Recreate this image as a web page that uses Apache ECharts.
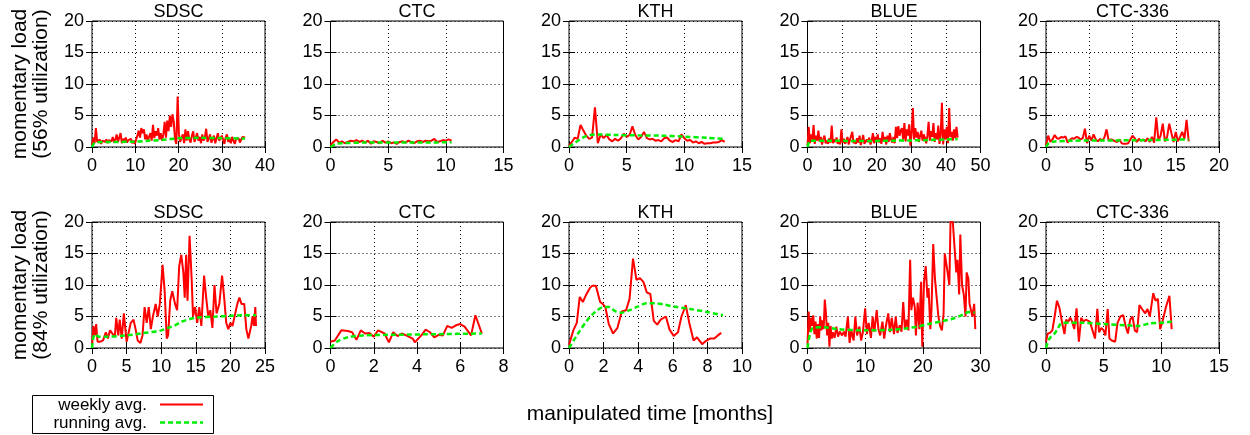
<!DOCTYPE html>
<html>
<head>
<meta charset="utf-8">
<script src="https://cdn.jsdelivr.net/npm/echarts@6/dist/echarts.min.js"></script>
<style>
  html, body { margin: 0; padding: 0; background: #fff; }
  #chart { width: 1250px; height: 435px; }
</style>
</head>
<body>
<div id="chart"></div>
<script>
// ---- panel names and axis ranges ----
const panelNames = ['SDSC', 'CTC', 'KTH', 'BLUE', 'CTC-336'];
const topXMax = [40, 15, 15, 50, 20];
const topXTick = [10, 5, 5, 10, 5];
const bottomXMax = [25, 8, 10, 30, 15];
const bottomXTick = [5, 2, 2, 10, 5];
const yMax = 20;
const yTick = 5;
const rowUtil = ['56% utilization', '84% utilization'];

// ---- 56% utilization: weekly averages, one value per week, week length in months ----
const sdsc56Week = 0.3;
const sdsc56Weekly = [
  0.3, 1.5, 0.6, 3.0, 0.8,
  0.7, 1.2, 0.5, 1.0, 1.3, 0.8, 1.2, 0.6, 1.1, 1.4,
  0.9, 1.6, 0.7, 1.2, 2.0, 0.8, 1.1, 2.2, 0.6, 1.3,
  0.9, 1.5, 0.7, 1.1, 0.8, 1.3, 0.6, 1.0, 0.5, 1.2,
  1.8, 2.6, 1.5, 3.0, 2.2, 2.8, 1.2, 2.0, 1.0, 1.6,
  2.2, 1.0, 3.5, 1.4, 2.5, 1.8, 3.0, 1.2, 2.2, 1.0,
  2.0, 4.0, 1.5, 4.2, 2.5, 5.0, 3.2, 5.2, 4.0, 1.2,
  0.5, 8.0, 2.0, 0.8, 1.5, 2.0, 0.6, 2.8, 1.0, 2.5,
  1.2, 0.7, 1.8, 2.5, 0.8, 1.5, 2.2, 1.0, 1.6, 0.6,
  2.0, 1.0, 1.5, 2.9, 0.8, 1.3, 2.0, 0.7, 1.2, 1.8,
  0.6, 1.4, 2.2, 1.0, 0.7, 1.8, 1.2, 0.5, 1.5, 2.0,
  0.8, 1.3, 0.6, 1.6, 1.0, 0.5, 1.2, 0.9, 1.4, 0.7,
  1.2, 1.6, 1.3, 1.5
];
const ctc56Week = 0.25;
const ctc56Weekly = [
  0.3, 0.8, 1.2, 0.7, 0.9, 0.6, 0.8, 1.0, 0.9, 1.1,
  0.8, 1.0, 0.7, 1.0, 0.5, 0.9, 0.8, 0.6, 1.0, 0.7,
  0.9, 0.6, 0.7, 0.5, 0.8, 0.9, 0.7, 1.0, 0.8, 0.6,
  0.9, 1.0, 0.8, 1.0, 0.9, 1.0, 1.3, 0.8, 0.9, 1.1,
  1.0, 1.2, 1.0
];
const kth56Week = 0.25;
const kth56Weekly = [
  0.2, 0.8, 1.5, 1.3, 3.5, 2.6, 1.8, 1.3, 1.5, 6.3,
  0.6, 2.0, 1.4, 1.9, 1.2, 0.9, 1.3, 1.0, 1.4, 2.1,
  1.6, 1.9, 3.3, 1.9, 1.2, 1.6, 2.4, 1.4, 1.2, 1.3,
  1.0, 1.1, 0.9, 1.4, 1.5, 1.0, 0.8, 1.1, 0.9, 2.0,
  1.4, 1.0, 1.1, 0.7, 0.9, 0.6, 0.8, 0.5, 0.6, 0.6,
  0.7, 0.7, 0.8, 1.1, 0.8
];
const blue56Week = 0.35;
const blue56Weekly = [
  0.3, 3.2, 0.6, 2.0, 0.9, 3.5, 0.5, 1.8, 1.0, 2.6,
  0.8, 1.6, 0.4, 1.2, 1.8, 0.6, 1.0, 0.5, 1.4, 0.7,
  3.4, 0.6, 1.2, 0.8, 1.5, 0.5, 1.0, 0.4, 2.8, 0.7,
  1.3, 0.5, 0.9, 1.6, 0.4, 1.1, 0.8, 2.4, 0.6, 1.0,
  0.5, 1.4, 0.7, 1.8, 0.3, 1.0, 1.9, 0.5, 0.2, 1.2,
  0.8, 1.5, 0.4, 1.0, 2.2, 0.6, 1.6, 0.8, 2.0, 0.7,
  1.4, 0.5, 2.4, 0.9, 1.6, 0.4, 1.8, 0.8, 2.2, 1.2,
  0.7, 1.6, 0.6, 3.2, 1.4, 3.3, 1.8, 2.6, 3.0, 1.2,
  3.8, 0.9, 2.8, 1.8, 3.6, 0.2, 2.2, 6.2, 1.2, 3.0,
  1.5, 2.4, 0.8, 1.8, 2.6, 1.0, 2.0, 1.4, 0.6, 1.8,
  4.0, 1.0, 2.5, 1.6, 3.8, 0.8, 2.2, 1.2, 3.4, 0.5,
  2.0, 7.0, 0.4, 2.8, 1.2, 3.2, 0.6, 6.2, 1.6, 2.4,
  1.0, 2.8, 1.4, 3.2, 1.5
];
const ctc336_56Week = 0.25;
const ctc336_56Weekly = [
  0.2, 1.8, 0.8, 1.2, 1.9, 1.4, 1.3, 1.6, 1.5, 1.7,
  0.7, 1.1, 1.4, 1.3, 1.6, 1.5, 1.2, 1.4, 2.9, 0.6,
  1.8, 1.0, 2.0, 1.2, 0.9, 1.3, 1.0, 1.5, 2.8, 1.0,
  1.2, 1.1, 0.9, 0.8, 1.2, 0.6, 0.5, 0.5, 0.6, 1.2,
  1.8, 1.4, 0.8, 1.3, 1.0, 1.2, 0.9, 1.4, 0.8, 1.6,
  0.7, 4.7, 1.0, 1.8, 3.7, 0.9, 1.6, 3.7, 2.2, 0.8,
  2.4, 0.9, 1.6, 2.4, 1.3, 4.3, 0.9
];

// ---- 56% utilization: running averages [month, load] ----
const sdsc56Running = [[0,0],[0.5,0.6],[1,0.75],[5,0.8],[10,0.85],[13,1.0],[16,1.1],[18,1.25],[20,1.4],[25,1.45],[30,1.4],[35.4,1.35]];
const ctc56Running = [[0,0],[0.5,0.5],[1,0.6],[3,0.7],[6,0.7],[10.5,0.75]];
const kth56Running = [[0,0],[0.3,0.4],[0.7,0.9],[1.2,1.5],[1.8,1.9],[2.5,2.0],[4,1.9],[6,1.85],[8,1.8],[10,1.65],[12,1.45],[13.5,1.3]];
const blue56Running = [[0,0],[0.3,0.6],[0.7,1.0],[5,1.0],[15,0.95],[25,1.0],[30,1.05],[35,1.1],[40,1.2],[43.4,1.25]];
const ctc336_56Running = [[0,0],[0.3,0.6],[0.8,0.85],[3,1.0],[8,1.05],[12,1.1],[16.5,1.2]];

// ---- 84% utilization: weekly averages [month, load] ----
const sdsc84Weekly = [[0,0.2],[0.2,3.5],[0.4,2],[0.6,3.8],[0.8,1],[1.2,1],[1.6,1.2],[2,2.5],[2.3,1.5],[2.6,2.8],[3,2.2],[3.3,1.8],[3.5,4.8],[3.8,2],[4,4.5],[4.3,1.5],[4.6,5.5],[5,1],[5.3,2.5],[5.6,4],[6,4.5],[6.3,3],[6.6,1.2],[7,0.8],[7.3,2],[7.6,6.5],[7.9,4],[8.2,6.5],[8.5,3],[8.8,5],[9.2,7],[9.5,5],[9.8,7],[10.2,13.2],[10.5,9],[10.8,1.5],[11,2],[11.3,7.5],[11.6,9],[12,7],[12.3,6],[12.6,13],[12.9,14.8],[13.2,12],[13.4,8],[13.6,14.8],[13.8,7.5],[14.1,17.8],[14.4,11],[14.6,5],[14.9,6.5],[15.2,4],[15.5,6.5],[15.8,3.5],[16.2,11.5],[16.5,8],[16.8,5],[17.1,6],[17.4,3.2],[17.7,10],[18,5.5],[18.4,7],[18.8,11.5],[19.1,8],[19.4,4],[19.7,3],[20,4],[20.3,3.5],[20.6,5],[21,7],[21.3,8],[21.6,7],[22,7],[22.3,3],[22.6,1.5],[23,3.5],[23.2,5],[23.4,3.5],[23.6,6.5],[23.7,3.5]];
const ctc84Weekly = [[0,1],[0.2,1.2],[0.5,2.8],[0.8,2.7],[1.0,2.5],[1.2,1.3],[1.4,2.8],[1.6,2.3],[1.8,2.4],[2.0,1.8],[2.2,2.8],[2.5,2.3],[2.7,0.9],[2.9,2.5],[3.1,1.9],[3.3,2.3],[3.5,2.0],[3.8,1.5],[3.9,0.9],[4.2,2.0],[4.4,2.9],[4.6,2.5],[4.8,1.7],[5.0,2.1],[5.2,2.0],[5.4,3.5],[5.6,3.2],[5.8,3.6],[6.0,3.8],[6.2,3.4],[6.5,2.0],[6.7,5.2],[7.0,2.3]];
const kth84Weekly = [[0,0.5],[0.25,2.8],[0.45,4],[0.62,8.1],[0.8,7.3],[1.0,8.5],[1.2,9.5],[1.35,9.9],[1.55,9.9],[1.8,7.3],[1.95,7.0],[2.1,6.5],[2.3,3.8],[2.55,2.3],[2.8,3.2],[3.05,5.8],[3.3,6.0],[3.5,7.8],[3.7,14.2],[3.9,10.8],[4.1,11.1],[4.3,10.5],[4.5,8.8],[4.7,8.6],[4.9,4.3],[5.1,3.7],[5.3,4.5],[5.6,5.0],[5.8,3.0],[6.05,1.9],[6.3,2.5],[6.5,5.0],[6.75,6.8],[6.95,4.0],[7.2,1.2],[7.4,1.7],[7.7,0.6],[7.9,1.1],[8.15,1.5],[8.4,1.5],[8.6,2.0],[8.8,2.4]];
const blue84Weekly = [[0,0.5],[0.2,5.8],[0.4,2.5],[0.6,4.8],[0.8,3.5],[1.0,5.2],[1.2,2.2],[1.4,4.2],[1.6,1.5],[1.8,3.8],[2.0,1.6],[2.2,5.0],[2.4,2.8],[2.6,4.4],[2.8,3.0],[3.0,7.7],[3.2,5.5],[3.4,2.0],[3.6,4.0],[3.8,0.2],[4.0,3.5],[4.2,1.5],[4.4,2.5],[4.7,1.6],[5.0,3.4],[5.3,1.8],[5.6,2.6],[6.0,2.0],[6.3,2.6],[6.6,1.8],[7.0,5.0],[7.3,0.8],[7.6,2.8],[8.0,1.2],[8.3,5.0],[8.6,2.0],[9.0,3.4],[9.3,1.2],[9.6,2.5],[10.0,6.3],[10.3,2.2],[10.6,4.0],[11.0,1.6],[11.3,5.0],[11.6,2.6],[12.0,6.0],[12.3,3.0],[12.6,2.0],[13.0,4.2],[13.3,1.5],[13.6,3.5],[14.0,5.5],[14.3,2.5],[14.6,4.8],[15.0,2.2],[15.3,5.0],[15.6,2.4],[16.0,3.6],[16.3,2.6],[16.6,7.3],[16.9,3.0],[17.2,4.5],[17.5,2.8],[17.8,14.0],[18.0,6.0],[18.3,8.0],[18.6,6.5],[18.8,2.0],[19.1,7.2],[19.4,3.0],[19.7,10.5],[19.9,0.2],[20.2,10.5],[20.5,13.0],[20.8,8.0],[21.0,9.5],[21.3,3.0],[21.5,6.0],[21.8,16.5],[22.1,11.0],[22.4,8.0],[22.7,5.0],[23.0,3.5],[23.3,2.8],[23.6,5.5],[23.8,15.0],[24.1,15.2],[24.3,12.0],[24.6,10.0],[24.8,20],[25.2,20],[25.5,16.0],[25.8,12.0],[26.0,14.0],[26.3,8.5],[26.5,18.0],[26.8,10.0],[27.1,8.5],[27.4,5.0],[27.6,12.0],[27.9,11.0],[28.1,7.0],[28.4,7.2],[28.6,5.0],[28.9,7.0],[29.1,3.0]];
const ctc336_84Weekly = [[0,1],[0.15,2.3],[0.35,2.4],[0.55,2.8],[0.75,5],[0.95,7.5],[1.15,6.5],[1.4,4],[1.6,2.2],[1.75,4.5],[1.95,4.2],[2.1,4.8],[2.25,4.3],[2.45,3],[2.65,6.3],[2.85,1],[3.05,4.8],[3.25,4.2],[3.45,4.5],[3.6,4.3],[3.8,4.2],[4.0,3],[4.25,1.5],[4.45,6.2],[4.6,2.5],[4.8,3.2],[5.0,2.8],[5.15,2],[5.35,6.2],[5.5,1.5],[5.7,1.2],[6.0,1],[6.2,4],[6.45,5],[6.7,5.2],[6.9,3.5],[7.1,2.3],[7.3,4.5],[7.5,5],[7.7,2.8],[7.9,2.5],[8.1,6.8],[8.4,6],[8.6,5.5],[8.8,6.2],[9.0,5],[9.3,8.7],[9.5,7.5],[9.7,7.8],[9.9,3],[10.1,4.2],[10.4,6.5],[10.7,8.3],[10.9,3]];

// ---- 84% utilization: running averages [month, load] ----
const sdsc84Running = [[0,0],[0.4,2.2],[1,1.8],[2,1.8],[5,2.0],[7,2.3],[10,2.8],[11,3.2],[12,3.6],[13,4.2],[15,4.8],[18,5.0],[20,5.1],[22,5.2],[23.7,5.2]];
const ctc84Running = [[0,0],[0.3,1.0],[0.8,1.7],[1.5,2.0],[3,2.1],[5,2.2],[7,2.3]];
const kth84Running = [[0,0],[0.5,2.2],[1,4.2],[1.5,5.7],[2,6.5],[2.3,6.5],[2.7,5.8],[3.0,5.6],[3.5,6.0],[4,6.6],[4.5,7.1],[5,7.1],[5.5,6.9],[6,6.6],[7,6.2],[8,5.7],[8.9,5.2]];
const blue84Running = [[0,0],[0.5,2.5],[1,3.2],[3,3.3],[5,3.0],[10,2.8],[15,2.9],[17,3.1],[19,3.4],[21,3.8],[23,4.2],[25,4.6],[27,5.3],[28,5.7],[29,5.6]];
const ctc336_84Running = [[0,0],[0.3,1.5],[0.7,2.2],[1.0,3.0],[1.4,4.0],[3,4.0],[5,3.8],[7,3.6],[8,3.5],[9,3.9],[10,4.0],[10.9,4.2]];

// weekly arrays with a fixed week length become [month, load] pairs
function weeklyPairs(values, week) {
  return values.map((v, i) => [+(i * week).toFixed(3), v]);
}

const weeklyData = [
  weeklyPairs(sdsc56Weekly, sdsc56Week),
  weeklyPairs(ctc56Weekly, ctc56Week),
  weeklyPairs(kth56Weekly, kth56Week),
  weeklyPairs(blue56Weekly, blue56Week),
  weeklyPairs(ctc336_56Weekly, ctc336_56Week),
  sdsc84Weekly, ctc84Weekly, kth84Weekly, blue84Weekly, ctc336_84Weekly
];
const runningData = [
  sdsc56Running, ctc56Running, kth56Running, blue56Running, ctc336_56Running,
  sdsc84Running, ctc84Running, kth84Running, blue84Running, ctc336_84Running
];

// ---- layout ----
const FONT = '"Liberation Sans", Arial, Helvetica, sans-serif';
const gridLefts = [92, 330.5, 569, 807.5, 1046];
const gridW = 173, gridH = 126;
const rowTops = [21, 222];
const tickFont = 18;

const grids = [], xAxes = [], yAxes = [], series = [], graphics = [];
const mirrorX = [], mirrorY = [];

for (let r = 0; r < 2; r++) {
  for (let c = 0; c < 5; c++) {
    const k = r * 5 + c;
    const xMax = r === 0 ? topXMax[c] : bottomXMax[c];
    const xTick = r === 0 ? topXTick[c] : bottomXTick[c];
    grids.push({
      left: gridLefts[c], top: rowTops[r], width: gridW, height: gridH,
      show: true, borderColor: '#000', borderWidth: 1, backgroundColor: 'transparent'
    });
    const dotted = { color: '#000', width: 1, type: [1, 3] };
    xAxes.push({
      gridIndex: k, type: 'value', position: 'bottom', min: 0, max: xMax, interval: xTick,
      axisLine: { show: false },
      axisTick: { show: true, inside: true, length: 6, lineStyle: { color: '#000', width: 1 } },
      axisLabel: { show: true, fontSize: tickFont, color: '#000', fontFamily: FONT, margin: 10 },
      splitLine: { show: true, lineStyle: dotted }
    });
    mirrorX.push({
      gridIndex: k, type: 'value', position: 'top', min: 0, max: xMax, interval: xTick,
      axisLine: { show: false },
      axisTick: { show: true, inside: true, length: 6, lineStyle: { color: '#000', width: 1 } },
      axisLabel: { show: false }, splitLine: { show: false }
    });
    yAxes.push({
      gridIndex: k, type: 'value', position: 'left', min: 0, max: yMax, interval: yTick,
      axisLine: { show: false },
      axisTick: { show: true, inside: true, length: 6, lineStyle: { color: '#000', width: 1 } },
      axisLabel: { show: true, fontSize: tickFont, color: '#000', fontFamily: FONT, margin: 8 },
      splitLine: { show: true, lineStyle: dotted }
    });
    mirrorY.push({
      gridIndex: k, type: 'value', position: 'right', min: 0, max: yMax, interval: yTick,
      axisLine: { show: false },
      axisTick: { show: true, inside: true, length: 6, lineStyle: { color: '#000', width: 1 } },
      axisLabel: { show: false }, splitLine: { show: false }
    });
    series.push({
      name: 'weekly avg.', type: 'line', xAxisIndex: k, yAxisIndex: k,
      data: weeklyData[k], showSymbol: false, symbol: 'none', clip: true,
      lineStyle: { color: '#ff0000', width: 2 }, z: 3
    });
    series.push({
      name: 'running avg.', type: 'line', xAxisIndex: k, yAxisIndex: k,
      data: runningData[k], showSymbol: false, symbol: 'none', clip: true, smooth: 0.3,
      lineStyle: { color: '#00ee00', width: 2.5, type: [5, 3] }, z: 4
    });
    // panel title
    graphics.push({
      type: 'text', x: gridLefts[c] + gridW / 2, y: rowTops[r] - 9,
      style: { text: panelNames[c], font: '18px ' + FONT, fill: '#000',
               textAlign: 'center', textVerticalAlign: 'middle' }
    });
  }
  // row y-axis label, two lines, reading upward
  const cy = rowTops[r] + gridH / 2;
  graphics.push({
    type: 'text', x: 20, y: cy, rotation: Math.PI / 2,
    style: { text: 'momentary load', font: '21px ' + FONT, fill: '#000',
             textAlign: 'center', textVerticalAlign: 'middle' }
  });
  graphics.push({
    type: 'text', x: 41, y: cy, rotation: Math.PI / 2,
    style: { text: '(' + rowUtil[r] + ')', font: '21px ' + FONT, fill: '#000',
             textAlign: 'center', textVerticalAlign: 'middle' }
  });
}

// shared x-axis label
graphics.push({
  type: 'text', x: 650, y: 414,
  style: { text: 'manipulated time [months]', font: '21px ' + FONT, fill: '#000',
           textAlign: 'center', textVerticalAlign: 'middle' }
});

// key box
graphics.push({
  type: 'rect', shape: { x: 32.5, y: 395.5, width: 181, height: 38 },
  style: { fill: '#fff', stroke: '#000', lineWidth: 1 }
});
graphics.push({
  type: 'text', x: 147, y: 405,
  style: { text: 'weekly avg.', font: '17px ' + FONT, fill: '#000',
           textAlign: 'right', textVerticalAlign: 'middle' }
});
graphics.push({
  type: 'text', x: 147, y: 423,
  style: { text: 'running avg.', font: '17px ' + FONT, fill: '#000',
           textAlign: 'right', textVerticalAlign: 'middle' }
});
graphics.push({
  type: 'line', shape: { x1: 160, y1: 404.5, x2: 203, y2: 404.5 },
  style: { stroke: '#ff0000', lineWidth: 2 }
});
graphics.push({
  type: 'line', shape: { x1: 160, y1: 422.5, x2: 203, y2: 422.5 },
  style: { stroke: '#00ee00', lineWidth: 2.5, lineDash: [5, 3] }
});

const chart = echarts.init(document.getElementById('chart'));
chart.setOption({
  animation: false,
  backgroundColor: '#fff',
  grid: grids,
  xAxis: xAxes.concat(mirrorX),
  yAxis: yAxes.concat(mirrorY),
  series: series,
  graphic: { elements: graphics }
});
</script>
</body>
</html>
